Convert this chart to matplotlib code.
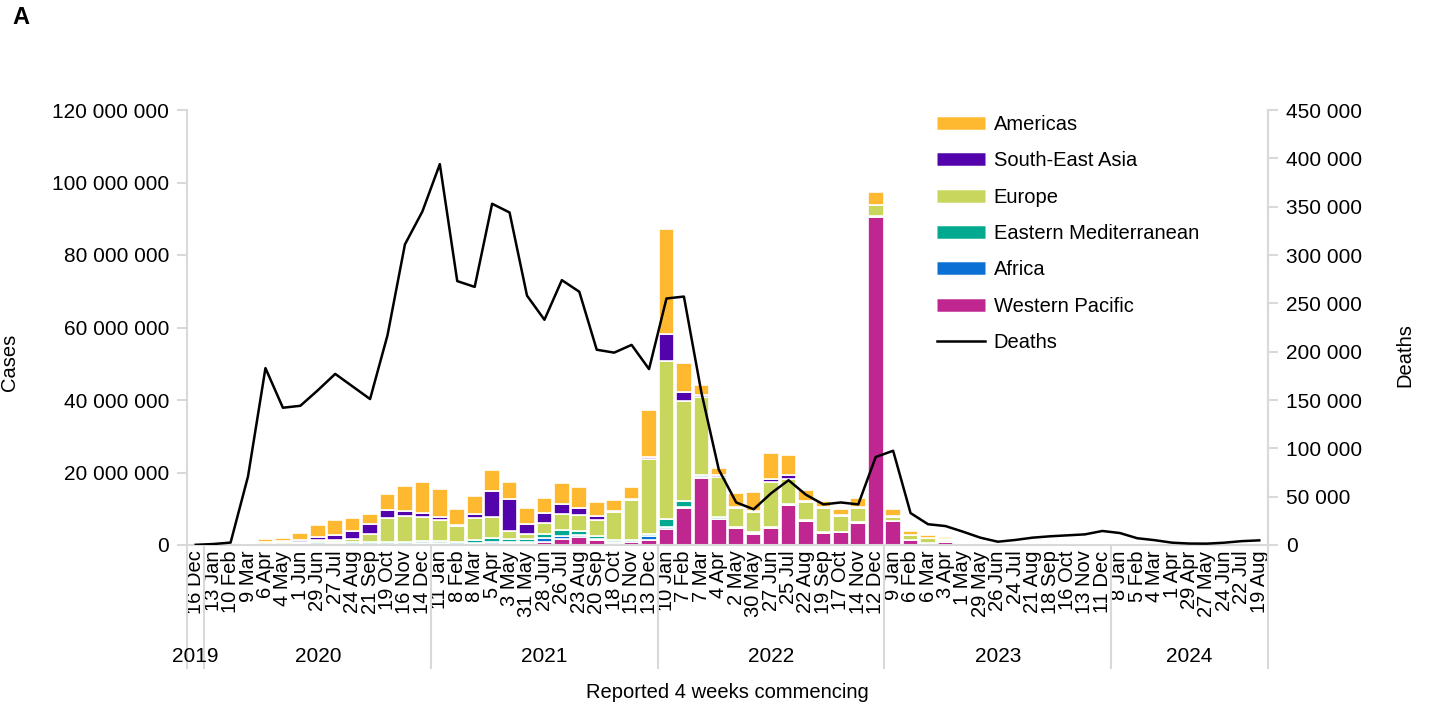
import matplotlib
matplotlib.use("Agg")
import matplotlib.pyplot as plt
from matplotlib.lines import Line2D

plt.rcParams['font.family'] = ['Liberation Sans', 'DejaVu Sans']

# 4-week reporting periods (start dates)
periods = ["16 Dec",
           "13 Jan", "10 Feb", "9 Mar", "6 Apr", "4 May", "1 Jun", "29 Jun", "27 Jul", "24 Aug", "21 Sep", "19 Oct", "16 Nov", "14 Dec",
           "11 Jan", "8 Feb", "8 Mar", "5 Apr", "3 May", "31 May", "28 Jun", "26 Jul", "23 Aug", "20 Sep", "18 Oct", "15 Nov", "13 Dec",
           "10 Jan", "7 Feb", "7 Mar", "4 Apr", "2 May", "30 May", "27 Jun", "25 Jul", "22 Aug", "19 Sep", "17 Oct", "14 Nov", "12 Dec",
           "9 Jan", "6 Feb", "6 Mar", "3 Apr", "1 May", "29 May", "26 Jun", "24 Jul", "21 Aug", "18 Sep", "16 Oct", "13 Nov", "11 Dec",
           "8 Jan", "5 Feb", "4 Mar", "1 Apr", "29 Apr", "27 May", "24 Jun", "22 Jul", "19 Aug"]
years = ["2019", "2020", "2021", "2022", "2023", "2024"]
periods_per_year = [1, 13, 13, 13, 13, 9]

# cases in millions
americas = [0, 0, 0, 0.05, 0.7, 1.0, 2.1, 3.4, 4.0, 3.6, 2.9, 4.4, 7.0, 8.8,
            7.8, 4.4, 5.0, 5.6, 4.6, 4.6, 4.0, 5.8, 5.8, 3.9, 2.8, 3.2, 13.0,
            29.0, 8.0, 2.6, 2.0, 3.9, 5.3, 7.0, 5.6, 3.0, 1.8, 1.6, 2.5, 3.5,
            2.0, 1.2, 0.9, 0.6, 0.05, 0.03, 0.02, 0.03, 0.03, 0.03, 0.03, 0.03, 0.03,
            0.03, 0.03, 0.02, 0.01, 0.01, 0.01, 0.01, 0.02, 0.02]
se_asia = [0, 0, 0, 0.01, 0.02, 0.15, 0.4, 0.8, 1.4, 2.2, 2.6, 2.2, 1.4, 0.9,
           0.6, 0.5, 1.2, 7.4, 8.8, 2.7, 2.7, 2.9, 1.8, 0.9, 0.5, 0.4, 0.6,
           7.4, 2.6, 0.8, 0.4, 0.3, 0.4, 0.8, 1.0, 0.5, 0.2, 0.2, 0.2, 0.1,
           0.05, 0.05, 0.1, 0.1, 0.02, 0.01, 0.01, 0.01, 0.01, 0.01, 0.01, 0.01, 0.01,
           0.01, 0.01, 0.01, 0.005, 0.005, 0.005, 0.005, 0.005, 0.005]
europe = [0, 0, 0.01, 0.25, 0.7, 0.5, 0.35, 0.45, 0.5, 0.9, 2.4, 6.6, 7.0, 6.8,
          6.0, 4.4, 6.1, 5.8, 2.4, 1.4, 3.3, 4.4, 4.4, 4.5, 7.6, 11.0, 20.5,
          43.6, 27.6, 21.4, 11.2, 5.0, 5.5, 12.4, 6.9, 4.8, 6.6, 4.3, 4.0, 3.0,
          1.2, 1.2, 1.2, 0.7, 0.05, 0.03, 0.02, 0.03, 0.05, 0.08, 0.1, 0.25, 0.35,
          0.1, 0.05, 0.03, 0.02, 0.02, 0.02, 0.02, 0.03, 0.03]
east_med = [0, 0, 0, 0.02, 0.1, 0.25, 0.4, 0.55, 0.5, 0.45, 0.45, 0.6, 0.6, 0.5,
            0.4, 0.4, 0.8, 1.1, 0.9, 0.7, 0.9, 1.6, 1.1, 0.8, 0.6, 0.4, 0.6,
            2.2, 1.5, 0.6, 0.4, 0.3, 0.3, 0.3, 0.3, 0.2, 0.2, 0.15, 0.15, 0.1,
            0.1, 0.05, 0.05, 0.05, 0.02, 0.01, 0.01, 0.01, 0.01, 0.01, 0.01, 0.01, 0.01,
            0.01, 0.01, 0.01, 0.005, 0.005, 0.005, 0.005, 0.005, 0.005]
africa = [0, 0, 0, 0.005, 0.01, 0.05, 0.1, 0.3, 0.35, 0.2, 0.15, 0.1, 0.15, 0.3,
          0.35, 0.2, 0.25, 0.3, 0.25, 0.4, 1.1, 0.9, 0.6, 0.4, 0.2, 0.2, 1.2,
          0.5, 0.3, 0.1, 0.1, 0.1, 0.1, 0.1, 0.1, 0.05, 0.05, 0.05, 0.05, 0.05,
          0.02, 0.02, 0.02, 0.02, 0.01, 0.01, 0.005, 0.005, 0.005, 0.005, 0.005, 0.005, 0.005,
          0.005, 0.005, 0.005, 0.002, 0.002, 0.002, 0.002, 0.002, 0.002]
west_pac = [0.001, 0.01, 0.07, 0.05, 0.03, 0.03, 0.05, 0.1, 0.1, 0.1, 0.1, 0.1, 0.15, 0.2,
            0.25, 0.15, 0.25, 0.4, 0.45, 0.5, 0.9, 1.6, 2.2, 1.3, 0.6, 0.7, 1.3,
            4.4, 10.3, 18.6, 7.1, 4.7, 3.1, 4.7, 10.9, 6.7, 3.3, 3.5, 6.1, 90.6,
            6.5, 1.4, 0.6, 0.7, 0.4, 0.1, 0.05, 0.6, 0.05, 0.05, 0.05, 0.04, 0.04,
            0.03, 0.02, 0.02, 0.02, 0.02, 0.02, 0.03, 0.03, 0.03]
# deaths in thousands
deaths = [0.2, 1.0, 2.5, 71, 183, 142, 144, 160, 177, 164, 151, 217, 311, 345,
          394, 273, 267, 353, 344, 258, 233, 274, 262, 202, 199, 207, 182,
          255, 257, 158, 78, 44, 37, 53.5, 67, 52, 42, 44, 42, 91,
          97.5, 33, 21.5, 19.6, 13.8, 7.6, 3.4, 5.2, 7.6, 9, 10, 11, 14.5,
          12.4, 7, 5, 2.4, 1.5, 1.4, 2.4, 4, 4.8]

regions = [("Western Pacific", west_pac, "#C0268F"),
           ("Africa", africa, "#0B70D3"),
           ("Eastern Mediterranean", east_med, "#00A98F"),
           ("Europe", europe, "#C9D65E"),
           ("South-East Asia", se_asia, "#5303AB"),
           ("Americas", americas, "#FFB930")]

W, H = 1429, 709
fig = plt.figure(figsize=(W / 100, H / 100), dpi=100)
L, R, T, B = 187, 1268, 110, 545
ax = fig.add_axes([L / W, 1 - B / H, (R - L) / W, (B - T) / H])
ax2 = ax.twinx()

x = list(range(len(periods)))
bottom = [0.0] * len(periods)
for name, vals, col in regions:
    ax.bar(x, [v * 1e6 for v in vals], bottom=bottom, width=0.9, color=col,
           edgecolor="white", linewidth=1.2)
    bottom = [b + v * 1e6 for b, v in zip(bottom, vals)]

ax2.plot(x, [d * 1000 for d in deaths], color="black", lw=1.8)

ax.set_xlim(-0.5, len(periods) - 0.5)
ax.set_ylim(0, 120e6)
ax2.set_ylim(0, 450000)
ax.set_yticks(range(0, 120000001, 20000000))
ax2.set_yticks(range(0, 450001, 50000))
fmt = lambda v: f"{int(v):,}".replace(",", " ")
ax.set_yticklabels([fmt(v) for v in ax.get_yticks()], fontsize=15)
ax2.set_yticklabels([fmt(v) for v in ax2.get_yticks()], fontsize=15)

grey = "#D9D9D9"
for a in (ax, ax2):
    a.spines["top"].set_visible(False)
    for s in ("left", "right", "bottom"):
        a.spines[s].set_color(grey)
        a.spines[s].set_linewidth(1.5)
    a.tick_params(axis="y", length=7, width=1.5, color=grey, pad=6)
ax2.spines["left"].set_visible(False)
ax2.spines["bottom"].set_visible(False)

ax.set_xticks(x)
ax.set_xticklabels(periods, rotation=90, fontsize=14.5)
ax.tick_params(axis="x", length=0, pad=4)

# year separators and labels
tr = ax.get_xaxis_transform()
pos = -0.5
edges = [pos]
for n in periods_per_year:
    pos += n
    edges.append(pos)
for e in edges:
    ax.plot([e, e], [0, -0.283], transform=tr, color=grey, lw=1.5, clip_on=False)
for yr, a, b in zip(years, edges[:-1], edges[1:]):
    ax.text((a + b) / 2, -0.257, yr, transform=tr, ha="center", va="center", fontsize=15)

ax.text(0.5, -0.34, "Reported 4 weeks commencing", transform=ax.transAxes,
        ha="center", va="center", fontsize=14.5)
fig.text(10 / W, 1 - 362 / H, "Cases", rotation=90, ha="center", va="center", fontsize=14.5)
fig.text(1405 / W, 1 - 355 / H, "Deaths", rotation=90, ha="center", va="center", fontsize=14.5)
fig.text(12 / W, 1 - 18 / H, "A", ha="left", va="center", fontsize=17, fontweight="bold")

handles = [Line2D([], [], color=col, lw=9, solid_capstyle="butt") for _, _, col in regions[::-1]]
handles.append(Line2D([], [], color="black", lw=1.8))
names = [n for n, _, _ in regions[::-1]] + ["Deaths"]
fig.legend(handles, names, loc="upper left", bbox_to_anchor=(919 / W, 1 - 97 / H),
           frameon=False, fontsize=14.5, handlelength=2.4, handletextpad=0.4,
           labelspacing=0.86)

fig.savefig("out.png", dpi=100)
